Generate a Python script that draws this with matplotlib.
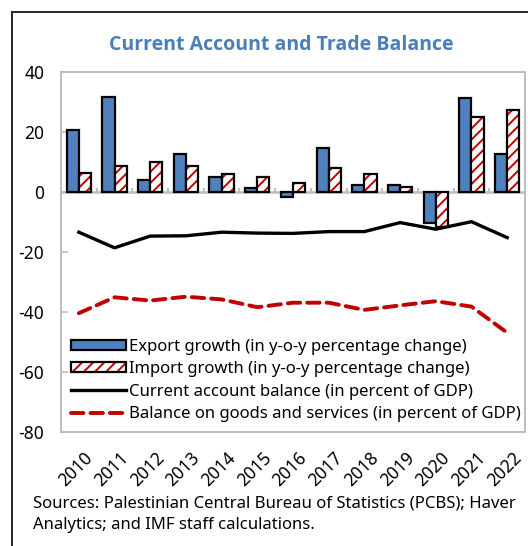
import numpy as np
import matplotlib
matplotlib.use("Agg")
import matplotlib.pyplot as plt
import matplotlib.transforms as mtransforms
from matplotlib.lines import Line2D
from matplotlib.patches import Patch
from matplotlib.legend_handler import HandlerTuple

years = ["2010", "2011", "2012", "2013", "2014", "2015", "2016",
         "2017", "2018", "2019", "2020", "2021", "2022"]
export_growth = [20.6, 31.6, 4.0, 12.8, 4.9, 1.4, -1.8, 14.8, 2.3, 2.3, -10.4, 31.4, 12.8]
import_growth = [6.4, 8.7, 10.1, 8.7, 6.1, 5.1, 2.9, 7.9, 6.0, 1.6, -11.6, 24.9, 27.3]
current_account = [-13.4, -18.6, -14.7, -14.6, -13.4, -13.7, -13.8, -13.2, -13.2, -10.2, -12.4, -9.9, -15.2]
goods_services = [-40.4, -35.1, -36.2, -34.9, -35.8, -38.4, -36.9, -36.9, -39.3, -37.8, -36.4, -38.2, -46.9]

BLUE = "#4F81BD"
RED = "#C00000"
GRID = "#BFBFBF"
FONT = ["Noto Sans", "DejaVu Sans"]

plt.rcParams["font.family"] = FONT
plt.rcParams["hatch.linewidth"] = 1.4

fig = plt.figure(figsize=(5.28, 5.46), dpi=100)
ax = fig.add_axes([61 / 528, 114 / 546, 464 / 528, 360 / 546])

x = np.arange(len(years))
w = 0.34

# export bars
ax.bar(x - w / 2, export_growth, w, color=BLUE, edgecolor="black", lw=1.6, zorder=3)
# import bars: red hatch, then black outline on top
ax.bar(x + w / 2, import_growth, w, color="white", edgecolor=RED, hatch="///", lw=0, zorder=3)
ax.bar(x + w / 2, import_growth, w, fill=False, edgecolor="black", lw=1.6, zorder=4)

ax.plot(x, current_account, color="black", lw=2.4, solid_joinstyle="round", zorder=5)
ax.plot(x, goods_services, color=RED, lw=2.8, ls=(0, (3.2, 1.8)),
        dash_capstyle="round", zorder=5)

# zero line with category ticks
ax.axhline(0, color=GRID, lw=1.8, zorder=2)
ax.vlines(x[1:] - 0.5, 0, 1.4, color=GRID, lw=1.5, zorder=2)

ax.set_xlim(-0.5, len(years) - 0.5)
ax.set_ylim(-80, 40)
ax.set_yticks([-80, -60, -40, -20, 0, 20, 40])
ax.set_yticklabels(["-80", "-60", "-40", "-20", "0", "20", "40"])
ax.tick_params(axis="y", direction="in", length=5, width=1.2, color=GRID,
               labelsize=12.5, pad=12)
ax.set_xticks(x)
ax.set_xticklabels(years, rotation=45, ha="right", rotation_mode="anchor")
ax.tick_params(axis="x", length=0, labelsize=12.5, pad=12)
shift = mtransforms.ScaledTranslation(5 / 100, 0, fig.dpi_scale_trans)
for lbl in ax.get_xticklabels():
    lbl.set_transform(lbl.get_transform() + shift)
for s in ax.spines.values():
    s.set_color(GRID)
    s.set_linewidth(1.5)

fig.text(281 / 528, 1 - 45 / 546, "Current Account and Trade Balance",
         color="#4A7EBB", fontweight="bold", fontsize=14, ha="center", va="center",
         family=["Open Sans", "DejaVu Sans"])

h_exp = Patch(facecolor=BLUE, edgecolor="black", lw=1.6)
h_imp = (Patch(facecolor="white", edgecolor=RED, hatch="///", lw=0),
         Patch(fill=False, edgecolor="black", lw=1.6))
h_ca = Line2D([], [], color="black", lw=2.4)
h_gs = Line2D([], [], color=RED, lw=2.8, ls=(0, (3.2, 1.8)), dash_capstyle="round")
ax.legend([h_exp, h_imp, h_ca, h_gs],
          ["Export growth (in y-o-y percentage change)",
           "Import growth (in y-o-y percentage change)",
           "Current account balance (in percent of GDP)",
           "Balance on goods and services (in percent of GDP)"],
          handler_map={tuple: HandlerTuple(ndivide=1, pad=0)},
          loc="lower left", bbox_to_anchor=(0.0, 0.0), frameon=False,
          fontsize=12, handlelength=3.3, handleheight=0.55, handletextpad=0.2,
          labelspacing=0.38, borderaxespad=0.4, borderpad=0.2)

fig.text(33 / 528, 1 - 514 / 546,
         "Sources: Palestinian Central Bureau of Statistics (PCBS); Haver\n"
         "Analytics; and IMF staff calculations.",
         fontsize=12, va="center", ha="left", linespacing=1.5)

# outer frame lines
fig.add_artist(Line2D([12 / 528, 12 / 528], [0, 1 - 12 / 546], color="#262626", lw=1.4))
fig.add_artist(Line2D([12 / 528, 1], [1 - 12 / 546, 1 - 12 / 546], color="#262626", lw=1.4))

fig.savefig("out.png", dpi=100)
